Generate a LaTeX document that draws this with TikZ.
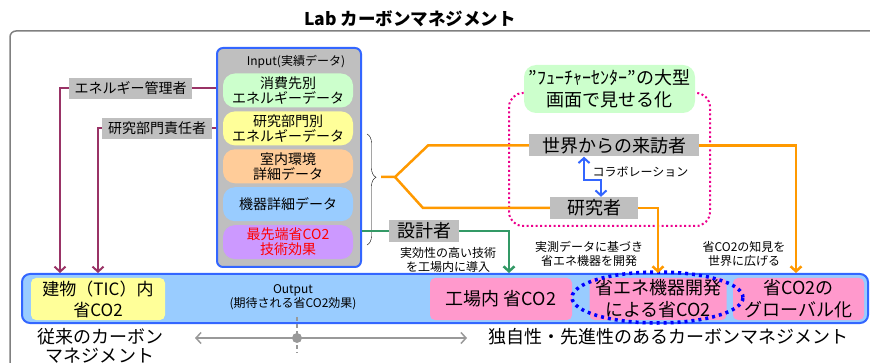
\documentclass[tikz,border=0pt]{standalone}
\usepackage{fontspec}
\setmainfont{Noto Sans CJK JP}
\usetikzlibrary{positioning,arrows.meta,shapes.geometric,decorations.pathreplacing}
\definecolor{boxgray}{HTML}{BFBFBF}
\definecolor{lnblue}{HTML}{3366FF}
\definecolor{mgline}{HTML}{993366}
\definecolor{orline}{HTML}{FF9900}
\definecolor{grline}{HTML}{339966}
\definecolor{pgreen}{HTML}{CCFFCC}
\definecolor{pyellow}{HTML}{FFFF99}
\definecolor{porange}{HTML}{FFCC99}
\definecolor{pblue}{HTML}{99CCFF}
\definecolor{ppurple}{HTML}{CC99FF}
\definecolor{ppink}{HTML}{FF99CC}
\newcommand{\fsz}[2]{\fontsize{#1}{#2}\selectfont}

\begin{document}
\begin{tikzpicture}[x=1pt,y=-1pt,>={Straight Barb[length=5pt,width=11pt]},node distance=3.5pt,
  tag/.style={fill=boxgray,inner sep=2pt,minimum height=22pt,font=\fsz{18}{22}},
  data/.style={rounded corners=12pt,minimum width=130pt,minimum height=34pt,align=center,inner sep=0pt,font=\fsz{14}{15}},
  outbox/.style={rounded corners=5pt,minimum height=42pt,align=center,inner sep=0pt,font=\fsz{18}{22}},
  note/.style={align=center,font=\fsz{12}{14}},
  mgarrow/.style={->,draw=mgline,line width=2pt},
  orarrow/.style={draw=orline,line width=2.5pt},
  grarrow/.style={draw=grline,line width=2.5pt}]
\useasboundingbox (0,0) rectangle (870,363);
\draw[gray,line width=1.5pt,rounded corners=6pt] (10,380) |- (900,31);
\node[font=\bfseries\fsz{17.5}{19}] (ttl) at (410,19) {Lab カーボンマネジメント};

% input
\node[draw=lnblue,line width=2pt,fill=boxgray,rounded corners=6pt,minimum width=144pt,minimum height=219pt] (inp) at (289,157.5) {};
\node[font=\fsz{12}{14}] (intl) at (296,62) {Input(実績データ)};
\node[data,fill=pgreen] (d1) at (288,90.5) {消費先別\\エネルギーデータ};
\node[data,fill=pyellow,below=of d1] (d2) {研究部門別\\エネルギーデータ};
\node[data,fill=porange,below=of d2] (d3) {室内環境\\詳細データ};
\node[data,fill=pblue,below=of d3] (d4) {機器詳細データ};
\node[data,fill=ppurple,text=red,below=of d4] (d5) {最先端省CO2\\技術効果};
\draw[decorate,decoration={brace,amplitude=9pt,aspect=0.39}] (367,134) -- (367,245);
\coordinate (bt) at (381,177);

\node[tag,font=\fsz{14}{16},minimum height=21pt,minimum width=123pt] (mgr) at (130.5,88.5) {エネルギー管理者};
\node[tag,font=\fsz{14}{16},minimum height=21pt,minimum width=110pt] (lead) at (157,128.5) {研究部門責任者};

% future center
\draw[magenta,line width=2pt,dash pattern=on 2pt off 2.5pt,rounded corners=14pt] (509,93) rectangle (710,226);
\node[fill=pgreen,rounded corners=12pt,minimum width=171pt,minimum height=48pt,align=center,inner sep=0pt,font=\fsz{18}{22}] (fut) at (609.5,89) {”ﾌｭｰﾁｬｰｾﾝﾀｰ”の大型\\画面で見せる化};
\node[tag,minimum width=170pt] (world) at (614,145.5) {世界からの来訪者};
\node[tag,minimum width=88pt] (res) at (594,208) {研究者};
\node[tag,minimum width=70pt] (des) at (424,231) {設計者};
\draw[<->,lnblue,line width=2pt] ([xshift=-30pt]world.south) -- ++(0,23) -| ([xshift=7pt]res.north);
\node[note,anchor=west] (collab) at (589,172) {コラボレーション};

% output
\node[draw=lnblue,line width=2pt,fill=pblue,rounded corners=8pt,minimum width=846pt,minimum height=49pt] (out) at (445,298.5) {};
\node[outbox,fill=pyellow,minimum width=134pt,font=\fsz{17}{21}] (bld) at (98,299) {建物（TIC）内\\省CO2};
\node[note] (outl) at (293,297) {Output\\(期待される省CO2効果)};
\node[outbox,fill=ppink,minimum width=142pt] (fac) at (501,299) {工場内 省CO2};
\node[outbox,fill=ppink,minimum width=137pt] (dev) at (658,299) {省エネ機器開発\\による省CO2};
\node[outbox,fill=ppink,minimum width=131pt] (glob) at (798.5,299) {省CO2の\\グローバル化};
\node[ellipse,draw=blue,line width=3.5pt,dash pattern=on 3pt off 4pt,minimum width=171pt,minimum height=51pt] (ring) at (657.5,297.5) {};

% connectors
\draw[draw=mgline,line width=2pt] (mgr.east) -- (mgr.east -| inp.west);
\draw[draw=mgline,line width=2pt] (lead.east) -- (lead.east -| inp.west);
\draw[mgarrow] (mgr.west) -| ([xshift=-38pt]bld.north |- out.north);
\draw[mgarrow] (lead.west) -| (bld.north |- out.north);
\draw[orarrow] (bt) -- (395,177) -- (428,145.5) -- (world.west);
\draw[orarrow] (395,177) -- (423,208) -- (res.west);
\draw[orarrow,->] (world.east) -| ([xshift=-2.5pt]glob.north |- out.north);
\draw[orarrow,->] (res.east) -| (dev.north |- out.north);
\draw[grarrow] (inp.east |- des.west) -- (des.west);
\draw[grarrow,->] (des.east) -| ([xshift=8pt]fac.north |- out.north);
\node[note] (n1) at (448,260) {実効性の高い技術\\を工場内に導入};
\node[note] (n2) at (589,253.5) {実測データに基づき\\省エネ機器を開発};
\node[note] (n3) at (744,253.5) {省CO2の知見を\\世界に広げる};

% bottom
\node[align=center,font=\fsz{18}{19}] (old) at (100,346) {従来のカーボン\\マネジメント};
\node[font=\fsz{18}{22}] (new) at (668,337) {独自性・先進性のあるカーボンマネジメント};
\coordinate (tl) at (195,338);
\coordinate (tr) at (467,338);
\draw[<->,gray!80,line width=1.5pt] (tl) -- (tr);
\node[circle,fill=gray!80,inner sep=0pt,minimum size=10pt] (mid) at (297,338) {};
\draw[gray!80,line width=1.5pt,dash pattern=on 4pt off 3pt] ([yshift=21pt]mid.center) -- ([yshift=-15pt]mid.center);
\end{tikzpicture}
\end{document}
